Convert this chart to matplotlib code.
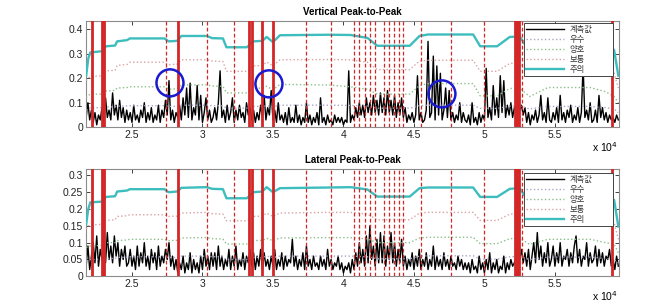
import numpy as np
import matplotlib
matplotlib.use('Agg')
import matplotlib.pyplot as plt
from matplotlib.patches import Ellipse
from matplotlib.ticker import FuncFormatter, FixedLocator

plt.rcParams['font.family'] = ['Liberation Sans', 'Noto Sans CJK KR', 'DejaVu Sans']

# ---------------- data ----------------
sample_start = 21750
sample_step = 125

vert_meas = [
    0.04, 0.10, 0.03, 0.07, 0.02, 0.06, 0.01, 0.05, 0.03, 0.08, 0.02, 0.12, 0.04, 0.07, 0.03, 0.14, 0.05, 0.09, 0.03, 0.11, 0.04, 0.08, 0.02, 0.07,
    0.03, 0.06, 0.02, 0.09, 0.03, 0.05, 0.02, 0.07, 0.04, 0.10, 0.02, 0.06, 0.03, 0.08, 0.02, 0.05, 0.03, 0.09, 0.02, 0.07, 0.04, 0.11, 0.05, 0.19,
    0.03, 0.07, 0.02, 0.06, 0.04, 0.09, 0.03, 0.12, 0.05, 0.16, 0.04, 0.18, 0.03, 0.08, 0.05, 0.17, 0.03, 0.13, 0.02, 0.06, 0.12, 0.03, 0.07, 0.02,
    0.04, 0.08, 0.03, 0.10, 0.23, 0.04, 0.07, 0.02, 0.09, 0.03, 0.06, 0.12, 0.02, 0.07, 0.03, 0.09, 0.04, 0.06, 0.02, 0.10, 0.05, 0.08, 0.03, 0.07,
    0.02, 0.06, 0.03, 0.09, 0.04, 0.13, 0.03, 0.08, 0.05, 0.15, 0.03, 0.07, 0.02, 0.10, 0.03, 0.05, 0.02, 0.06, 0.01, 0.08, 0.02, 0.04, 0.02, 0.09,
    0.02, 0.05, 0.01, 0.04, 0.02, 0.10, 0.02, 0.05, 0.01, 0.04, 0.02, 0.06, 0.01, 0.12, 0.02, 0.04, 0.01, 0.05, 0.02, 0.03, 0.01, 0.05, 0.02, 0.04,
    0.02, 0.04, 0.01, 0.03, 0.02, 0.23, 0.02, 0.05, 0.03, 0.08, 0.04, 0.10, 0.05, 0.09, 0.04, 0.12, 0.06, 0.10, 0.05, 0.13, 0.06, 0.11, 0.05, 0.14,
    0.06, 0.12, 0.05, 0.15, 0.06, 0.11, 0.05, 0.13, 0.04, 0.10, 0.05, 0.12, 0.04, 0.08, 0.02, 0.05, 0.03, 0.06, 0.02, 0.05, 0.21, 0.03, 0.06, 0.02,
    0.03, 0.07, 0.35, 0.04, 0.06, 0.29, 0.03, 0.25, 0.05, 0.22, 0.03, 0.07, 0.16, 0.04, 0.15, 0.03, 0.06, 0.02, 0.05, 0.03, 0.10, 0.02, 0.06, 0.03,
    0.02, 0.05, 0.01, 0.10, 0.02, 0.04, 0.01, 0.06, 0.02, 0.05, 0.03, 0.24, 0.04, 0.08, 0.03, 0.17, 0.05, 0.12, 0.04, 0.21, 0.06, 0.19, 0.04, 0.09,
    0.05, 0.10, 0.04, 0.08, 0.06, 0.11, 0.07, 0.09, 0.05, 0.08, 0.02, 0.06, 0.01, 0.05, 0.03, 0.07, 0.02, 0.05, 0.13, 0.03, 0.06, 0.02, 0.12, 0.03,
    0.02, 0.06, 0.03, 0.08, 0.02, 0.13, 0.03, 0.06, 0.02, 0.07, 0.04, 0.09, 0.02, 0.05, 0.03, 0.08, 0.02, 0.06, 0.25, 0.04, 0.07, 0.03, 0.10, 0.02,
    0.03, 0.07, 0.02, 0.13, 0.04, 0.08, 0.03, 0.06, 0.02, 0.05, 0.03, 0.04, 0.02, 0.05, 0.03,
]

lat_meas = [
    0.03, 0.09, 0.02, 0.06, 0.10, 0.04, 0.12, 0.03, 0.08, 0.05, 0.11, 0.04, 0.13, 0.05, 0.09, 0.04, 0.12, 0.06, 0.10, 0.03, 0.08, 0.05, 0.09, 0.03,
    0.04, 0.08, 0.03, 0.06, 0.02, 0.09, 0.03, 0.07, 0.04, 0.10, 0.03, 0.06, 0.02, 0.08, 0.04, 0.07, 0.02, 0.09, 0.03, 0.06, 0.04, 0.08, 0.05, 0.10,
    0.03, 0.06, 0.02, 0.05, 0.01, 0.04, 0.02, 0.06, 0.01, 0.04, 0.02, 0.07, 0.01, 0.05, 0.02, 0.04, 0.01, 0.06, 0.02, 0.08, 0.03, 0.06, 0.02, 0.07,
    0.03, 0.07, 0.02, 0.09, 0.03, 0.06, 0.02, 0.05, 0.03, 0.08, 0.02, 0.06, 0.03, 0.09, 0.02, 0.05, 0.03, 0.07, 0.02, 0.06, 0.04, 0.08, 0.03, 0.07,
    0.02, 0.06, 0.03, 0.08, 0.02, 0.07, 0.03, 0.05, 0.02, 0.06, 0.03, 0.08, 0.02, 0.05, 0.03, 0.07, 0.02, 0.06, 0.03, 0.05, 0.04, 0.11, 0.03, 0.06,
    0.02, 0.05, 0.03, 0.07, 0.02, 0.09, 0.03, 0.05, 0.02, 0.06, 0.03, 0.04, 0.02, 0.06, 0.03, 0.05, 0.02, 0.08, 0.03, 0.05, 0.02, 0.04, 0.03, 0.06,
    0.02, 0.04, 0.01, 0.03, 0.02, 0.04, 0.01, 0.05, 0.02, 0.07, 0.03, 0.10, 0.04, 0.08, 0.03, 0.12, 0.04, 0.15, 0.05, 0.09, 0.03, 0.11, 0.04, 0.13,
    0.04, 0.12, 0.03, 0.09, 0.05, 0.13, 0.04, 0.10, 0.03, 0.08, 0.04, 0.11, 0.03, 0.06, 0.02, 0.05, 0.03, 0.07, 0.02, 0.06, 0.03, 0.08, 0.02, 0.05,
    0.03, 0.07, 0.02, 0.05, 0.03, 0.09, 0.02, 0.06, 0.03, 0.05, 0.02, 0.07, 0.03, 0.05, 0.02, 0.06, 0.03, 0.04, 0.02, 0.06, 0.03, 0.05, 0.02, 0.04,
    0.02, 0.04, 0.01, 0.05, 0.02, 0.03, 0.01, 0.06, 0.02, 0.04, 0.01, 0.05, 0.02, 0.07, 0.01, 0.04, 0.02, 0.05, 0.01, 0.03, 0.02, 0.06, 0.01, 0.04,
    0.02, 0.05, 0.03, 0.04, 0.06, 0.09, 0.05, 0.08, 0.04, 0.07, 0.03, 0.08, 0.02, 0.06, 0.10, 0.04, 0.13, 0.05, 0.09, 0.03, 0.07, 0.04, 0.10, 0.03,
    0.05, 0.09, 0.03, 0.07, 0.04, 0.10, 0.03, 0.06, 0.05, 0.08, 0.03, 0.07, 0.04, 0.09, 0.12, 0.04, 0.08, 0.03, 0.06, 0.05, 0.10, 0.03, 0.07, 0.04,
    0.05, 0.09, 0.03, 0.08, 0.04, 0.07, 0.03, 0.06, 0.05, 0.08, 0.03, 0.05, 0.02, 0.06, 0.03,
]

thr_x = [21750, 21900, 22050, 22900, 23150, 23800, 23950, 24650, 24850, 27300,
         27600, 28200, 28500, 30300, 30700, 31450, 31700, 33150, 33600, 34250,
         34550, 35000, 35500, 39000, 40500, 41700, 42400, 44700, 45400, 46000,
         49200, 49700, 50900, 51800, 52500, 53200, 54500, 57500, 58600, 59200, 59500]

# Vertical thresholds
vert_caution = [0.21, 0.28, 0.305, 0.31, 0.33, 0.333, 0.35, 0.355, 0.362, 0.362,
                0.35, 0.352, 0.372, 0.372, 0.363, 0.362, 0.326, 0.326, 0.35, 0.352,
                0.368, 0.347, 0.375, 0.377, 0.376, 0.364, 0.332, 0.332, 0.372, 0.378,
                0.378, 0.33, 0.33, 0.368, 0.37, 0.31, 0.35, 0.36, 0.34, 0.315, 0.21]
vert_normal = [0.19, 0.2, 0.207, 0.21, 0.23, 0.232, 0.252, 0.256, 0.265, 0.265,
               0.255, 0.257, 0.275, 0.275, 0.27, 0.268, 0.228, 0.228, 0.25, 0.252,
               0.266, 0.25, 0.275, 0.276, 0.275, 0.265, 0.235, 0.235, 0.27, 0.273,
               0.273, 0.228, 0.228, 0.26, 0.262, 0.22, 0.25, 0.26, 0.24, 0.22, 0.16]
vert_good = [0.12, 0.13, 0.135, 0.135, 0.148, 0.15, 0.16, 0.162, 0.165, 0.165,
             0.155, 0.157, 0.172, 0.173, 0.168, 0.167, 0.14, 0.14, 0.158, 0.16,
             0.167, 0.153, 0.175, 0.172, 0.165, 0.155, 0.135, 0.135, 0.17, 0.178,
             0.178, 0.128, 0.128, 0.158, 0.16, 0.125, 0.162, 0.162, 0.145, 0.125, 0.1]
vert_excellent = [0.07, 0.075, 0.08, 0.08, 0.083, 0.083, 0.086, 0.087, 0.088, 0.088,
                  0.085, 0.085, 0.09, 0.09, 0.088, 0.088, 0.078, 0.078, 0.085, 0.085,
                  0.088, 0.084, 0.09, 0.09, 0.089, 0.087, 0.078, 0.078, 0.088, 0.09,
                  0.09, 0.077, 0.077, 0.086, 0.087, 0.075, 0.085, 0.085, 0.08, 0.075, 0.06]

# Lateral thresholds
lat_caution = [0.155, 0.2, 0.22, 0.222, 0.236, 0.238, 0.252, 0.255, 0.259, 0.259,
               0.25, 0.252, 0.263, 0.265, 0.26, 0.259, 0.232, 0.232, 0.25, 0.252,
               0.265, 0.25, 0.262, 0.264, 0.265, 0.258, 0.237, 0.237, 0.262, 0.264,
               0.264, 0.236, 0.236, 0.26, 0.262, 0.218, 0.25, 0.255, 0.24, 0.227, 0.148]
lat_normal = [0.14, 0.15, 0.152, 0.155, 0.166, 0.168, 0.178, 0.18, 0.183, 0.183,
              0.178, 0.179, 0.188, 0.19, 0.186, 0.185, 0.165, 0.165, 0.178, 0.179,
              0.188, 0.178, 0.188, 0.19, 0.19, 0.185, 0.168, 0.168, 0.188, 0.19,
              0.19, 0.166, 0.166, 0.185, 0.187, 0.16, 0.18, 0.182, 0.17, 0.16, 0.11]
lat_good = [0.085, 0.088, 0.09, 0.092, 0.1, 0.1, 0.106, 0.108, 0.11, 0.11,
            0.106, 0.107, 0.114, 0.115, 0.112, 0.111, 0.096, 0.096, 0.106, 0.107,
            0.113, 0.106, 0.114, 0.115, 0.115, 0.111, 0.1, 0.1, 0.114, 0.116,
            0.116, 0.097, 0.097, 0.112, 0.113, 0.095, 0.11, 0.11, 0.1, 0.095, 0.07]
lat_excellent = [0.045, 0.047, 0.05, 0.05, 0.053, 0.053, 0.056, 0.057, 0.058, 0.058,
                 0.056, 0.056, 0.06, 0.06, 0.058, 0.058, 0.05, 0.05, 0.056, 0.056,
                 0.06, 0.056, 0.06, 0.06, 0.06, 0.058, 0.052, 0.052, 0.06, 0.061,
                 0.061, 0.051, 0.051, 0.058, 0.059, 0.05, 0.057, 0.057, 0.053, 0.05, 0.04]

event_solid = [22163, 22870, 23000, 28241, 33280, 33480, 34255, 35021, 52200, 52330, 52450, 59020]
event_dashed = [27433, 30298, 32234, 37319, 39113, 40744, 41099, 41503, 41858, 42255,
                42851, 43205, 43581, 43915, 44198, 45496, 47603, 49986, 52660]

circle_x = [27695, 34716, 46985]
circle_y = [0.181, 0.177, 0.136]

labels = ['계측값', '우수', '양호', '보통', '주의']
xticks = [25000, 30000, 35000, 40000, 45000, 50000, 55000]

# ---------------- figure ----------------
fig = plt.figure(figsize=(6.72, 3.02), dpi=100)
ax1 = fig.add_axes([0.128, 0.5785, 0.793, 0.352])
ax2 = fig.add_axes([0.128, 0.0851, 0.793, 0.3553])

c_teal = '#3dbdbd'
c_pink = '#d9a3a3'
c_green = '#8cbf8c'
c_grey = '#a8a8c8'
c_red = '#d42626'

def draw(ax, meas, exc, good, normal, caution, ylim, yticks, title):
    sx = sample_start + sample_step * np.arange(len(meas))
    h0, = ax.plot(sx, meas, color='black', lw=1.0, zorder=2)
    h1, = ax.plot(thr_x, exc, color=c_grey, lw=1.0, ls=':', zorder=3)
    h2, = ax.plot(thr_x, good, color=c_green, lw=1.0, ls=':', zorder=3)
    h3, = ax.plot(thr_x, normal, color=c_pink, lw=1.0, ls=':', zorder=3)
    h4, = ax.plot(thr_x, caution, color=c_teal, lw=1.7, zorder=3)
    for xv in event_solid:
        ax.axvline(xv, color=c_red, lw=2.0, zorder=4)
    for xv in event_dashed:
        ax.axvline(xv, color=c_red, lw=0.9, ls=(0, (3, 1.8)), zorder=4)
    ax.set_xlim(21740, 59540)
    ax.set_ylim(*ylim)
    ax.xaxis.set_major_locator(FixedLocator(xticks))
    ax.xaxis.set_major_formatter(FuncFormatter(lambda v, p: ('%g' % (v / 1e4))))
    ax.set_yticks(yticks)
    ax.yaxis.set_major_formatter(FuncFormatter(lambda v, p: ('%g' % round(v, 3))))
    ax.tick_params(direction='in', top=True, right=True, length=3, width=0.6,
                   labelsize=7.5, pad=2, colors='#222222')
    for s in ax.spines.values():
        s.set_color('#8c8c8c')
        s.set_linewidth(0.8)
    ax.set_title(title, fontsize=7, fontweight='bold', pad=4)
    return [h0, h1, h2, h3, h4]

hs1 = draw(ax1, vert_meas, vert_excellent, vert_good, vert_normal, vert_caution,
           (0, 0.433), [0, 0.1, 0.2, 0.3, 0.4], 'Vertical Peak-to-Peak')
hs2 = draw(ax2, lat_meas, lat_excellent, lat_good, lat_normal, lat_caution,
           (0, 0.319), [0, 0.05, 0.1, 0.15, 0.2, 0.25, 0.3], 'Lateral Peak-to-Peak')

leg_left = (524 - 86) / 533
leg_w = (613 - 524) / 533
for ax, hs, top in [(ax1, hs1, 0.981), (ax2, hs2, 0.96)]:
    leg = ax.legend(hs, labels, loc='upper left', bbox_to_anchor=(leg_left, top - 0.5, leg_w, 0.5),
                    mode='expand', borderaxespad=0, fancybox=False, framealpha=1,
                    edgecolor='#444444',
                    prop={'family': ['Noto Sans CJK KR'], 'size': 6},
                    handlelength=4.6, labelspacing=0.12, handletextpad=0.6,
                    borderpad=0.25)
    leg.get_frame().set_linewidth(0.7)
    leg.set_zorder(10)
    for t in leg.get_texts():
        t.set_color('#333333')

for xi, yi in zip(circle_x, circle_y):
    ax1.add_patch(Ellipse((xi, yi), 1915, 0.110, fill=False, edgecolor='#1a1ad0',
                          lw=1.8, zorder=6))

fig.text(0.92, 1 - 146.7 / 302, 'x 10$^4$', ha='right', va='center', fontsize=7.5)
fig.text(0.92, 1 - 295.7 / 302, 'x 10$^4$', ha='right', va='center', fontsize=7.5)

fig.savefig('out.png', dpi=100)
